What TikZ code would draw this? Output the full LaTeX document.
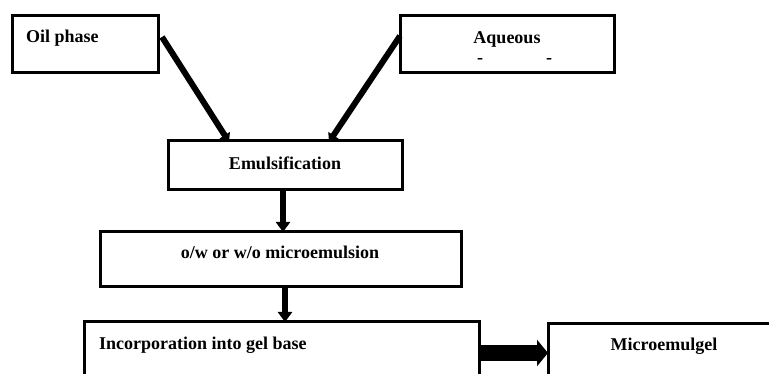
\documentclass[tikz,border=0pt]{standalone}
\usepackage{fontspec}
\setmainfont{Liberation Serif}
\usetikzlibrary{arrows.meta,calc}
\begin{document}
\begin{tikzpicture}[x=1pt,y=-1pt,
  box/.style={draw=black,line width=3pt,minimum width=#1,inner sep=0pt,outer sep=0pt},
  lbl/.style={font=\fontsize{18}{20}\selectfont\bfseries,inner sep=0pt},
  diag/.style={line width=6pt,-{Triangle[length=8pt,width=12pt]}},
  vert/.style={line width=6.5pt,-{Triangle[length=10pt,width=14pt]}},
  fat/.style={line width=16pt,-{Triangle[length=11pt,width=26pt]}}]
\useasboundingbox (0,0) rectangle (769,374);
% boxes
\node[box=146pt,minimum height=57pt] (oil) at (85,44.5) {};
\node[box=214pt,minimum height=57pt] (aq) at (507,44.5) {};
\node[box=234pt,minimum height=49pt] (emu) at (285,165.5) {};
\node[box=361pt,minimum height=55pt] (ow) at (280.5,259.5) {};
\node[box=395pt,minimum height=70pt] (inc) at (281.5,357) {};
\node[box=240pt,minimum height=70pt] (mic) at (668,359) {};
% texts
\node[lbl,anchor=west] (toil) at (26,38) {Oil phase};
\node[lbl] (taq) at (507,39) {Aqueous};
\node[lbl] (d1) at (480,61) {-};
\node[lbl] (d2) at (549,61) {-};
\node[lbl] (temu) at (285,163) {Emulsification};
\node[lbl] (tow) at (280,252) {o/w or w/o microemulsion};
\node[lbl,anchor=west] (tinc) at (99,345) {Incorporation into gel base};
\node[lbl] (tmic) at (664,346) {Microemulgel};
% connectors
\coordinate (s1) at (162,37);
\coordinate (e1) at (229,142);
\coordinate (s2) at (400,36);
\coordinate (e2) at (329,142);
\draw[diag] (s1) -- (e1);
\draw[diag] (s2) -- (e2);
\draw[vert] (emu.south -| 283,0) -- (ow.north -| 283,0);
\draw[vert] (ow.south -| 285,0) -- (inc.north -| 285,0);
\draw[fat] (inc.east |- 0,353) -- (mic.west |- 0,353);
\end{tikzpicture}
\end{document}
